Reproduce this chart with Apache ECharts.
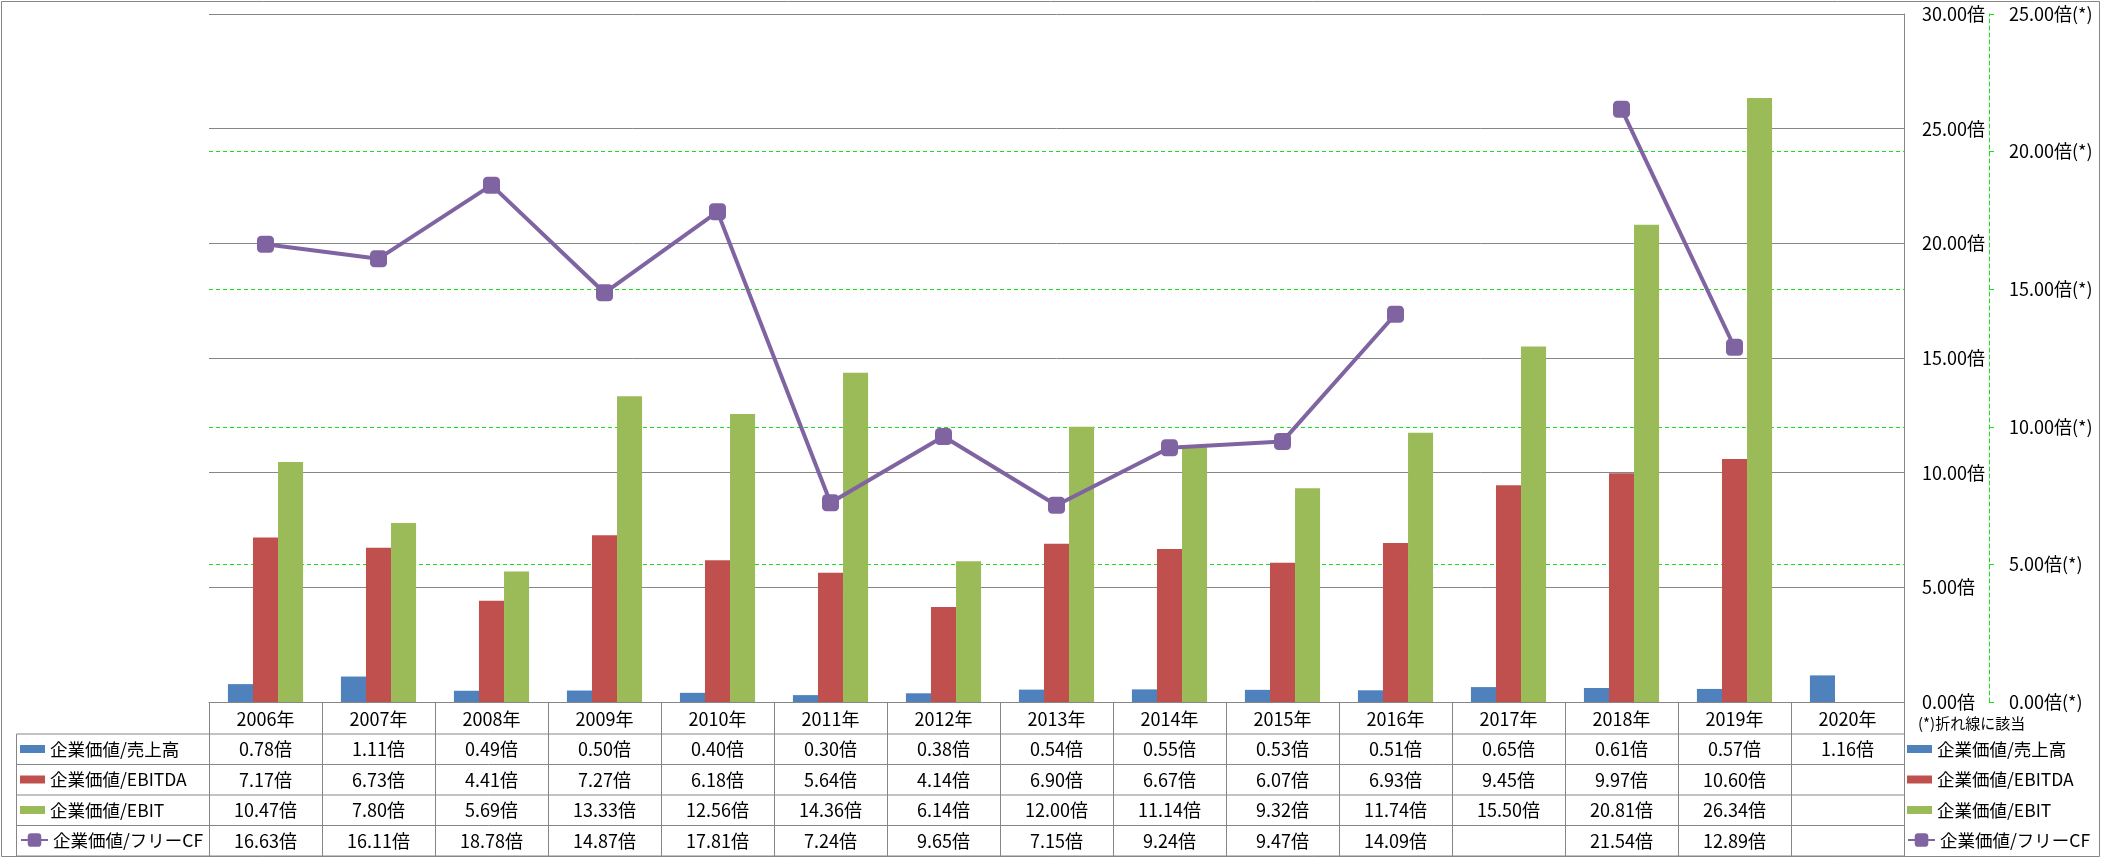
<!DOCTYPE html>
<html>
<head>
<meta charset="utf-8">
<script src="https://cdn.jsdelivr.net/npm/echarts@6/dist/echarts.min.js"></script>
<style>
html,body{margin:0;padding:0;background:#fff;}
#c{width:2101px;height:858px;}
</style>
</head>
<body>
<div id="c"></div>
<script>
// ---------- data ----------
const categories = ['2006年','2007年','2008年','2009年','2010年','2011年','2012年','2013年','2014年','2015年','2016年','2017年','2018年','2019年','2020年'];
const seriesNames = ['企業価値/売上高','企業価値/EBITDA','企業価値/EBIT','企業価値/フリーCF'];
const evSales  = [0.78,1.11,0.49,0.50,0.40,0.30,0.38,0.54,0.55,0.53,0.51,0.65,0.61,0.57,1.16];
const evEbitda = [7.17,6.73,4.41,7.27,6.18,5.64,4.14,6.90,6.67,6.07,6.93,9.45,9.97,10.60,null];
const evEbit   = [10.47,7.80,5.69,13.33,12.56,14.36,6.14,12.00,11.14,9.32,11.74,15.50,20.81,26.34,null];
const evFcf    = [16.63,16.11,18.78,14.87,17.81,7.24,9.65,7.15,9.24,9.47,14.09,null,21.54,12.89,null];
const primaryTicks   = [0,5,10,15,20,25,30];
const secondaryTicks = [0,5,10,15,20,25];
const noteText = '(*)折れ線に該当';

// ---------- style ----------
const FONT = '"Noto Sans CJK JP","Noto Sans",sans-serif';
const COLORS = ['#4F81BD','#C0504D','#9BBB59','#8064A2'];
const GRAY = '#868686';
const GREEN = '#19E019';

const chart = echarts.init(document.getElementById('c'), null, {renderer:'canvas'});

const fmt = v => (v === null || v === undefined) ? '' : v.toFixed(2) + '倍';

const legendText = {fontSize:17.5, lineHeight:20, color:'#000', fontFamily:FONT};
function mkLegend(left, names, isLine, top){
  const l = {
    orient:'vertical', left:left, top:top, padding:0,
    data:names, selectedMode:false,
    itemWidth: isLine ? 27 : 25,
    itemHeight: isLine ? 17 : 8,
    itemGap: 10.5,
    textStyle: legendText
  };
  if(!isLine) l.icon = 'rect';
  return l;
}

const option = {
  animation:false,
  backgroundColor:'#fff',
  textStyle:{fontFamily:FONT},
  grid:{left:209, right:197, top:14, bottom:156, containLabel:false},
  legend:[
    mkLegend(20, seriesNames.slice(0,3), false, 739),
    mkLegend(20, [seriesNames[3]], true, 830),
    mkLegend(1907, seriesNames.slice(0,3), false, 739),
    mkLegend(1907, [seriesNames[3]], true, 830)
  ],
  xAxis:{
    type:'category', data:categories, boundaryGap:true,
    axisLine:{show:true, lineStyle:{color:GRAY, width:1}},
    axisTick:{show:true, interval:0, length:154, alignWithLabel:false, lineStyle:{color:GRAY, width:1}},
    axisLabel:{interval:0, margin:7, fontSize:18, lineHeight:20, color:'#000', fontFamily:FONT},
    splitLine:{show:false}
  },
  yAxis:[
    {
      type:'value', position:'right', min:primaryTicks[0], max:primaryTicks[primaryTicks.length-1], interval:5,
      axisLine:{show:true, lineStyle:{color:GRAY, width:1}},
      axisTick:{show:false},
      axisLabel:{margin:18, align:'left', fontSize:18, color:'#000', fontFamily:FONT, formatter:v=>v.toFixed(2)+'倍'},
      splitLine:{show:true, lineStyle:{color:GRAY, width:1}}
    },
    {
      type:'value', position:'right', offset:85, min:secondaryTicks[0], max:secondaryTicks[secondaryTicks.length-1], interval:5,
      axisLine:{show:true, lineStyle:{color:GREEN, width:1, type:[4,3]}},
      axisTick:{show:true, length:5, inside:false, lineStyle:{color:GREEN, width:1}},
      axisLabel:{margin:20, align:'left', fontSize:18, color:'#000', fontFamily:FONT, formatter:v=>v.toFixed(2)+'倍(*)'},
      splitLine:{show:true, showMinLine:false, showMaxLine:false, lineStyle:{color:GREEN, width:1, type:[4,3]}}
    }
  ],
  series:[
    {name:seriesNames[0], type:'bar', data:evSales, yAxisIndex:0, barGap:'0%', barCategoryGap:'33.5%', itemStyle:{color:COLORS[0]}},
    {name:seriesNames[1], type:'bar', data:evEbitda, yAxisIndex:0, barGap:'0%', barCategoryGap:'33.5%', itemStyle:{color:COLORS[1]}},
    {name:seriesNames[2], type:'bar', data:evEbit, yAxisIndex:0, barGap:'0%', barCategoryGap:'33.5%', itemStyle:{color:COLORS[2]}},
    {name:seriesNames[3], type:'line', data:evFcf, yAxisIndex:1, connectNulls:false,
     symbol:'roundRect', symbolSize:17, z:5,
     lineStyle:{color:COLORS[3], width:4}, itemStyle:{color:COLORS[3]}}
  ]
};
chart.setOption(option);

// ---------- data table (built from the arrays, positioned via the x axis) ----------
const c0 = chart.convertToPixel({xAxisIndex:0}, categories[0]);
const cN = chart.convertToPixel({xAxisIndex:0}, categories[categories.length-1]);
const band = (cN - c0) / (categories.length - 1);
const tableRight = cN + band/2;
const rowLines = [734, 764.5, 795, 825.5, 856];
const tableLeft = 16.5;

const g = [];
// outer chart border
g.push({type:'rect', shape:{x:1.5, y:1.5, width:2098, height:855}, style:{fill:null, stroke:GRAY, lineWidth:1}, silent:true, z:0});
// horizontal row lines
rowLines.forEach(y=>{
  g.push({type:'line', shape:{x1:tableLeft, y1:y, x2:tableRight, y2:y}, style:{stroke:GRAY, lineWidth:1}, silent:true});
});
// left border of row-header column
g.push({type:'line', shape:{x1:tableLeft, y1:rowLines[0], x2:tableLeft, y2:rowLines[rowLines.length-1]}, style:{stroke:GRAY, lineWidth:1}, silent:true});
// cell values
const rows = [evSales, evEbitda, evEbit, evFcf];
rows.forEach((arr, r)=>{
  const yc = (rowLines[r] + rowLines[r+1]) / 2;
  arr.forEach((v, i)=>{
    if(v === null) return;
    const xc = chart.convertToPixel({xAxisIndex:0}, categories[i]);
    g.push({type:'text', x:xc, y:yc, silent:true,
      style:{text:fmt(v), fill:'#000', font:'18px ' + FONT, align:'center', verticalAlign:'middle'}});
  });
});
// note
g.push({type:'text', x:1918, y:723, silent:true,
  style:{text:noteText, fill:'#000', font:'15px ' + FONT, align:'left', verticalAlign:'middle'}});

chart.setOption({graphic:g});
</script>
</body>
</html>
